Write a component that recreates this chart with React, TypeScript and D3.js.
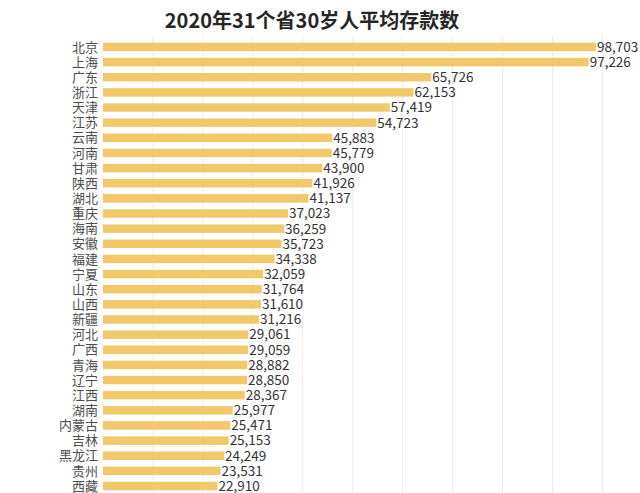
import React from "react";
import { scaleLinear, scaleBand, format } from "d3";

const provinces = [
  "北京", "上海", "广东", "浙江", "天津", "江苏", "云南", "河南", "甘肃", "陕西",
  "湖北", "重庆", "海南", "安徽", "福建", "宁夏", "山东", "山西", "新疆", "河北",
  "广西", "青海", "辽宁", "江西", "湖南", "内蒙古", "吉林", "黑龙江", "贵州", "西藏",
];
const deposits = [
  98703, 97226, 65726, 62153, 57419, 54723, 45883, 45779, 43900, 41926,
  41137, 37023, 36259, 35723, 34338, 32059, 31764, 31610, 31216, 29061,
  29059, 28882, 28850, 28367, 25977, 25471, 25153, 24249, 23531, 22910,
];
const gridTicks = [10000, 20000, 30000, 40000, 50000, 60000, 70000, 80000, 90000, 100000];

const title = "2020年31个省30岁人平均存款数";

export default function App() {
  const width = 640;
  const height = 493;
  const font = "'Noto Sans CJK SC', 'Noto Sans', sans-serif";

  const x = scaleLinear().domain([0, 100000]).range([103, 602.5]);
  const step = 15.14;
  const y = scaleBand()
    .domain(provinces)
    .range([39.4, 39.4 + step * provinces.length])
    .paddingInner(0.44)
    .paddingOuter(0.22);

  const fmt = format(",");

  return (
    <div style={{ position: "absolute", left: 0, top: 0 }}>
      <svg width={width} height={height} style={{ display: "block", background: "#fff" }}>
        <text
          x={312}
          y={28}
          textAnchor="middle"
          fontFamily={font}
          fontWeight="bold"
          fontSize={20}
          fill="#262626"
        >
          {title}
        </text>

        {gridTicks.map((t) => (
          <line
            key={t}
            x1={x(t)}
            x2={x(t)}
            y1={36}
            y2={height}
            stroke="#ececec"
            strokeWidth={1}
          />
        ))}

        {provinces.map((p, i) => {
          const yy = y(p) ?? 0;
          const bw = y.bandwidth();
          return (
            <g key={p}>
              <rect
                x={x(0)}
                y={yy}
                width={x(deposits[i]) - x(0)}
                height={bw}
                fill="#f1c96b"
              />
              <text
                x={98}
                y={yy + bw / 2}
                dy="0.36em"
                textAnchor="end"
                fontFamily={font}
                fontSize={13}
                fill="#4d4d4d"
              >
                {p}
              </text>
              <text
                x={x(deposits[i]) + 1}
                y={yy + bw / 2}
                dy="0.36em"
                fontFamily={font}
                fontSize={13.5}
                fill="#333"
              >
                {fmt(deposits[i])}
              </text>
            </g>
          );
        })}
      </svg>
    </div>
  );
}
